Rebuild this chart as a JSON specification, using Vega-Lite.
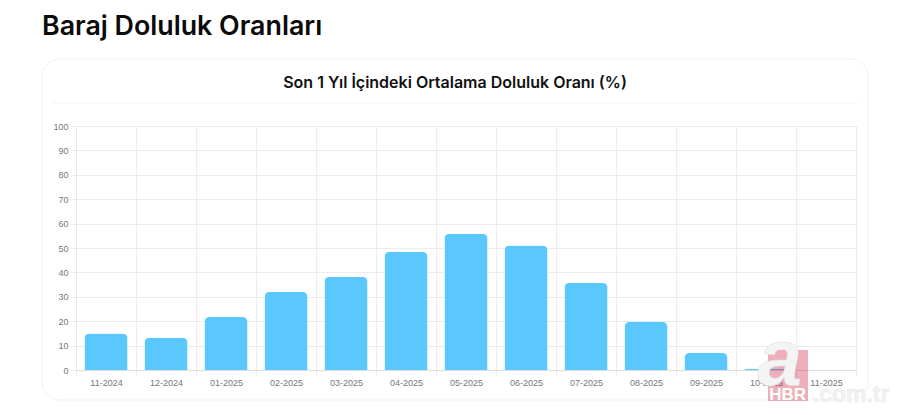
{
  "$schema": "https://vega.github.io/schema/vega-lite/v6.json",
  "autosize": "none",
  "padding": {"left": 76, "top": 126, "right": 44, "bottom": 45},
  "width": 780,
  "height": 244,
  "background": "white",
  "title": {
    "text": "Baraj Doluluk Oranları",
    "anchor": "start",
    "frame": "group",
    "dx": -34,
    "offset": 18,
    "font": "Inter",
    "fontSize": 26.8,
    "fontWeight": 600,
    "color": "#0b0b0b"
  },
  "config": {"view": {"stroke": null}},
  "resolve": {"scale": {"x": "independent"}, "axis": {"x": "independent", "y": "independent"}},
  "layer": [
    {
      "data": {"values": [{"panel": "card"}]},
      "mark": {"type": "rect", "fill": null, "stroke": "#f1f1f3", "strokeWidth": 1, "cornerRadius": 18},
      "encoding": {
        "x": {
          "datum": -0.567,
          "type": "quantitative",
          "scale": {"domain": [0, 13], "nice": false, "zero": false},
          "axis": {
            "orient": "top",
            "grid": false,
            "ticks": false,
            "labels": false,
            "domain": false,
            "title": "Son 1 Yıl İçindeki Ortalama Doluluk Oranı (%)",
            "titleFont": "Inter",
            "titleFontSize": 16,
            "titleFontWeight": 600,
            "titleColor": "#111111",
            "titleX": 378.5,
            "titleY": -36
          }
        },
        "x2": {"datum": 13.2},
        "y": {"datum": 127.5, "type": "quantitative", "scale": {"domain": [0, 100], "nice": false}, "axis": null},
        "y2": {"datum": -12.3}
      }
    },
    {
      "data": {"values": [{"panel": "separator"}]},
      "mark": {"type": "rule", "stroke": "#f4f4f5", "strokeWidth": 1},
      "encoding": {
        "x": {"datum": -0.4, "type": "quantitative", "scale": {"domain": [0, 13], "nice": false, "zero": false}, "axis": null},
        "x2": {"datum": 13.03},
        "y": {"datum": 109.4, "type": "quantitative", "axis": null}
      }
    },
    {
      "data": {
        "values": [
          {"month": "11-2024", "rate": 15},
          {"month": "12-2024", "rate": 13.2},
          {"month": "01-2025", "rate": 21.7},
          {"month": "02-2025", "rate": 32},
          {"month": "03-2025", "rate": 38.2},
          {"month": "04-2025", "rate": 48.5},
          {"month": "05-2025", "rate": 55.8},
          {"month": "06-2025", "rate": 51},
          {"month": "07-2025", "rate": 35.8},
          {"month": "08-2025", "rate": 19.7},
          {"month": "09-2025", "rate": 7},
          {"month": "10-2025", "rate": 0.4},
          {"month": "11-2025", "rate": 0}
        ]
      },
      "mark": {"type": "bar", "fill": "#5AC8FF", "cornerRadiusEnd": 5, "width": {"band": 0.717}},
      "encoding": {
        "x": {
          "field": "month",
          "type": "ordinal",
          "sort": null,
          "scale": {"paddingInner": 0, "paddingOuter": 0},
          "axis": {
            "title": null,
            "grid": true,
            "labelAngle": 0,
            "labelFont": "Liberation Sans",
            "labelFontSize": 9,
            "labelColor": "#777777",
            "labelPadding": 2,
            "tickBand": "extent",
            "tickSize": 6,
            "tickColor": "#ececec",
            "gridColor": "#ececec",
            "domainColor": "#dddddd"
          }
        },
        "y": {
          "field": "rate",
          "type": "quantitative",
          "axis": {
            "title": null,
            "grid": true,
            "values": [0, 10, 20, 30, 40, 50, 60, 70, 80, 90, 100],
            "labelOverlap": false,
            "labelFont": "Liberation Sans",
            "labelFontSize": 9,
            "labelColor": "#777777",
            "labelPadding": 2,
            "tickSize": 6,
            "tickColor": "#ececec",
            "gridColor": "#ececec",
            "domainColor": "#e8e8e8"
          }
        }
      }
    },
    {
      "data": {"values": [{"panel": "watermark"}]},
      "mark": {"type": "rect", "fill": "#c8102e", "opacity": 0.33},
      "encoding": {
        "x": {"datum": 11.533, "type": "quantitative", "scale": {"domain": [0, 13], "nice": false, "zero": false}, "axis": null},
        "x2": {"datum": 12.2},
        "y": {"datum": 8.2, "type": "quantitative", "axis": null},
        "y2": {"datum": -12.7}
      }
    },
    {
      "data": {"values": [{"label": "a"}]},
      "mark": {"type": "text", "font": "Liberation Sans", "fontSize": 80, "fontWeight": "bold", "fontStyle": "italic", "fill": "#f4f4f4", "stroke": "#dddddd", "strokeWidth": 0.5, "align": "center", "baseline": "alphabetic"},
      "encoding": {
        "text": {"field": "label"},
        "x": {"datum": 11.73, "type": "quantitative", "scale": {"domain": [0, 13], "nice": false, "zero": false}, "axis": null},
        "y": {"datum": -6.1, "type": "quantitative", "axis": null}
      }
    },
    {
      "data": {"values": [{"label": "HBR"}]},
      "mark": {"type": "text", "font": "Liberation Sans", "fontSize": 17, "fontWeight": "bold", "fill": "#ffffff", "align": "center", "baseline": "middle"},
      "encoding": {
        "text": {"field": "label"},
        "x": {"datum": 11.86, "type": "quantitative", "scale": {"domain": [0, 13], "nice": false, "zero": false}, "axis": null},
        "y": {"datum": -10.2, "type": "quantitative", "axis": null}
      }
    },
    {
      "data": {"values": [{"label": ".com.tr"}]},
      "mark": {"type": "text", "font": "Liberation Sans", "fontSize": 23, "fontWeight": "bold", "fill": "#f2f2f2", "stroke": "#e8e8e8", "strokeWidth": 0.4, "align": "left", "baseline": "middle"},
      "encoding": {
        "text": {"field": "label"},
        "x": {"datum": 12.28, "type": "quantitative", "scale": {"domain": [0, 13], "nice": false, "zero": false}, "axis": null},
        "y": {"datum": -10.2, "type": "quantitative", "axis": null}
      }
    }
  ]
}
